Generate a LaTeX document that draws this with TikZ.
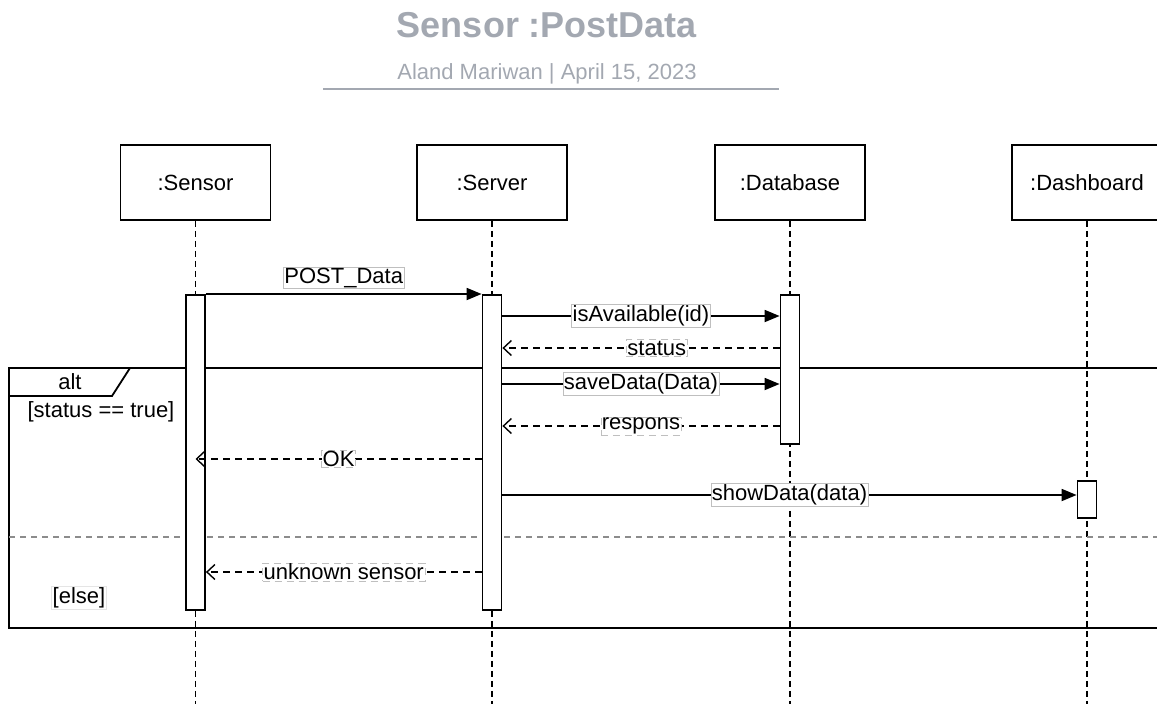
\documentclass[tikz,border=0pt]{standalone}
\usepackage{fontspec}
\setmainfont{Liberation Sans}
\usetikzlibrary{arrows.meta,positioning}
\definecolor{titlegray}{HTML}{A3A8B1}
\definecolor{framegray}{HTML}{8C8C8C}

\begin{document}
\begin{tikzpicture}[x=1pt,y=-1pt,
	txt/.style={font=\fontsize{22}{26}\selectfont},
	head/.style={draw,line width=1.8pt,minimum width=150pt,minimum height=75pt,inner sep=0pt,txt},
	bar/.style={draw,line width=1.8pt,fill=white,minimum width=19pt,inner sep=0pt,anchor=north},
	life/.style={line width=1.6pt,dash pattern=on 6pt off 4pt},
	call/.style={line width=1.8pt,-{Triangle[length=15pt,width=12pt]}},
	reply/.style={line width=1.4pt,dash pattern=on 7pt off 5pt,-{Straight Barb[length=8pt,width=15pt,line width=1.4pt]}},
	lbl/.style={txt,fill=white,draw=black!25,line width=0.6pt,inner sep=1pt}]
	\useasboundingbox (0,0) rectangle (1157,704);
	\node[text=titlegray,font=\bfseries\fontsize{36}{42}\selectfont] (title) at (547,25) {Sensor :PostData};
	\node[text=titlegray,txt] (subtitle) at (547,74) {Aland Mariwan | April 15, 2023};
	\coordinate (ruleA) at (323,89);
	\coordinate (ruleB) at (779,89);
	\draw[titlegray,line width=2.5pt] (ruleA) -- (ruleB);
	\foreach \N/\X/\T in {sensor/195.5/:Sensor, server/492/:Server, database/790/:Database, dashboard/1087/:Dashboard}
	{\node[head] (\N) at (\X,182.5) {\T};
	 \coordinate (\N end) at (\X,704);
	 \draw[life] (\N) -- (\N end);}
	\coordinate (altA) at (9,368);
	\coordinate (altB) at (1170,628);
	\draw[line width=1.8pt] (altA) rectangle (altB);
	\draw[line width=1.8pt] (9,368) -- (130,368) -- (112,396) -- (9,396);
	\node[txt] (altlbl) at (70,382) {alt};
	\coordinate (elseA) at (9,537);
	\coordinate (elseB) at (1170,537);
	\draw[framegray,line width=1.6pt,dash pattern=on 6pt off 5pt] (elseA) -- (elseB);
	\node[txt] (guardTrue) at (101,412) {[status == true]};
	\node[lbl,draw=black!10] (guardElse) at (79,598) {[else]};
	\node[bar,minimum height=315pt] (actSensor) at (195.5,294) {};
	\node[bar,minimum height=315pt] (actServer) at (492,294) {};
	\node[bar,minimum height=149pt] (actDatabase) at (790,294) {};
	\node[bar,minimum height=37pt] (actDashboard) at (1087,480) {};
	\foreach \L/\Y in {post/294, avail/316, status/348, save/384, resp/426, ok/459, show/495, unknown/572}
	{\coordinate (y\L) at (0,\Y);}
	\draw[call] (actSensor.east |- ypost) -- node[lbl,above=5pt] {POST\_Data} (actServer.west |- ypost);
	\draw[call] (actServer.east |- yavail) -- node[lbl] {isAvailable(id)} (actDatabase.west |- yavail);
	\draw[reply] (actDatabase.west |- ystatus) -- node[lbl,pos=0.443] {status} (actServer.east |- ystatus);
	\draw[call] (actServer.east |- ysave) -- node[lbl] {saveData(Data)} (actDatabase.west |- ysave);
	\draw[reply] (actDatabase.west |- yresp) -- node[lbl] {respons} (actServer.east |- yresp);
	\draw[reply] (actServer.west |- yok) -- node[lbl] {OK} (actSensor.center |- yok);
	\draw[call] (actServer.east |- yshow) -- node[lbl] {showData(data)} (actDashboard.west |- yshow);
	\draw[reply] (actServer.west |- yunknown) -- node[lbl] {unknown sensor} (actSensor.east |- yunknown);
\end{tikzpicture}
\end{document}
